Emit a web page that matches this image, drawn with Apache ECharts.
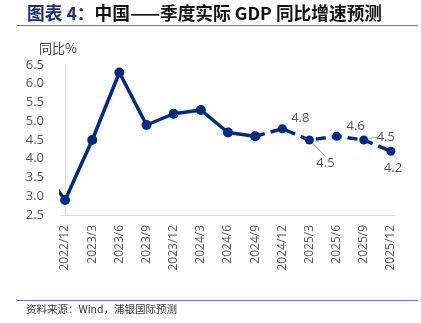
<!DOCTYPE html>
<html>
<head>
<meta charset="utf-8">
<script src="https://cdn.jsdelivr.net/npm/echarts@6/dist/echarts.min.js"></script>
<style>
html,body{margin:0;padding:0;background:#fff;}
#c{width:421px;height:323px;}
</style>
</head>
<body>
<div id="c"></div>
<script>
const categories = ['2022/12','2023/3','2023/6','2023/9','2023/12','2024/3','2024/6','2024/9','2024/12','2025/3','2025/6','2025/9','2025/12'];
const actualValues = [2.9, 4.5, 6.3, 4.9, 5.2, 5.3, 4.7, 4.6, null, null, null, null, null];
const forecastValues = [null, null, null, null, null, null, null, 4.6, 4.8, 4.5, 4.6, 4.5, 4.2];
const prevCategory = '2022/9';
const prevValue = 3.9;
const labelledForecast = [false, false, false, false, false, false, false, false, true, true, true, true, true];
const yTicks = [2.5, 3.0, 3.5, 4.0, 4.5, 5.0, 5.5, 6.0, 6.5];

const labelOffsets = {8: [18, -10, false], 9: [16, 23, true], 10: [19, -10, false], 11: [22, -3, true], 12: [2, 17, false]};

const actualData = [[-1, prevValue]];
actualValues.forEach((v, i) => { if (v !== null) actualData.push([i, v]); });
const forecastData = [];
forecastValues.forEach((v, i) => {
  if (v === null) return;
  const item = { value: [i, v] };
  if (labelledForecast[i]) {
    item.label = { show: true };
    item.labelLine = { show: labelOffsets[i][2] };
  } else {
    item.label = { show: false };
  }
  forecastData.push(item);
});

const navy = '#002B7F';
const chart = echarts.init(document.getElementById('c'), null, { renderer: 'canvas' });
chart.setOption({
  animation: false,
  backgroundColor: '#fff',
  grid: { left: 61, right: 26, top: 65, bottom: 108, containLabel: false },
  xAxis: {
    type: 'value',
    min: -0.15,
    max: 12.15,
    splitLine: { show: false },
    axisTick: { show: false },
    axisLine: { show: true, lineStyle: { color: '#D9D9D9', width: 1 } },
    axisLabel: {
      customValues: categories.map((c, i) => i),
      formatter: v => categories[Math.round(v)] || '',
      rotate: 90,
      margin: 10,
      color: '#595959',
      fontFamily: 'Open Sans',
      fontSize: 12
    }
  },
  yAxis: {
    type: 'value',
    min: yTicks[0],
    max: yTicks[yTicks.length - 1],
    interval: 0.5,
    name: '同比%',
    nameLocation: 'end',
    nameGap: 10,
    nameTextStyle: { color: '#404040', fontSize: 13, fontFamily: 'Noto Sans CJK SC', padding: [0, 14, 0, 0] },
    splitLine: { show: false },
    axisTick: { show: false },
    axisLine: { show: true, lineStyle: { color: '#D9D9D9', width: 1 } },
    axisLabel: {
      formatter: v => v.toFixed(1),
      margin: 17,
      color: '#595959',
      fontFamily: 'Open Sans',
      fontSize: 13
    }
  },
  series: [
    {
      type: 'line',
      data: actualData,
      clip: true,
      symbol: 'circle',
      symbolSize: 10,
      lineStyle: { color: navy, width: 3.5 },
      itemStyle: { color: navy },
      z: 3
    },
    {
      type: 'line',
      data: forecastData,
      symbol: 'circle',
      symbolSize: 9,
      lineStyle: { color: navy, width: 3.5, type: [10, 6] },
      itemStyle: { color: navy },
      label: {
        position: 'inside',
        formatter: p => p.value[1].toFixed(1),
        color: '#595959',
        fontFamily: 'Open Sans',
        fontSize: 13
      },
      labelLine: { lineStyle: { color: '#A6A6A6', width: 1 } },
      labelLayout: function (params) {
        const idx = forecastData[params.dataIndex] ? forecastData[params.dataIndex].value[0] : -1;
        const o = labelOffsets[idx];
        if (!o) return {};
        return { dx: o[0], dy: o[1] };
      },
      z: 4
    }
  ],
  graphic: [
    {
      type: 'text', left: 27, top: 4,
      style: {
        text: '{a|图表 4：}{b|中国——季度实际 GDP 同比增速预测}',
        rich: {
          a: { fill: '#1F2C6E', fontSize: 17.7, fontWeight: 'bold', fontFamily: 'Noto Sans CJK SC' },
          b: { fill: '#111111', fontSize: 17.7, fontWeight: 'bold', fontFamily: 'Noto Sans CJK SC' }
        }
      }
    },
    { type: 'line', shape: { x1: 17, y1: 25.5, x2: 418, y2: 25.5 }, style: { stroke: '#7474B4', lineWidth: 1 } },
    { type: 'line', shape: { x1: 17, y1: 300.5, x2: 418, y2: 300.5 }, style: { stroke: '#7474B4', lineWidth: 1 } },
    {
      type: 'text', left: 26, top: 304,
      style: { text: '资料来源：Wind，浦银国际预测', fill: '#333333', fontSize: 10.5, fontFamily: 'Noto Sans CJK SC' }
    }
  ]
});
</script>
</body>
</html>
